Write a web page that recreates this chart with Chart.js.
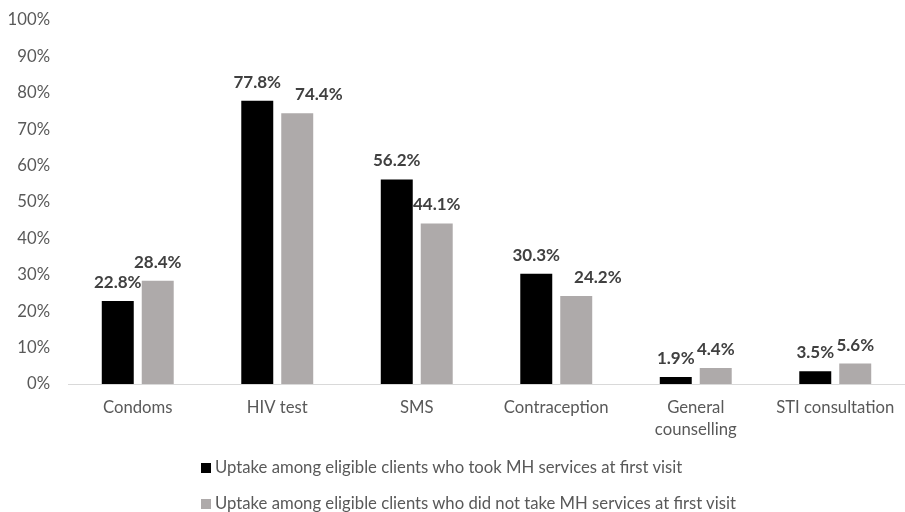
<!DOCTYPE html>
<html>
<head>
<meta charset="utf-8">
<script src="https://cdn.jsdelivr.net/npm/chart.js@4"></script>
<style>
  body { margin: 0; background: #fff; }
  #wrap { position: relative; width: 905px; height: 512px; }
  #legend { position: absolute; left: 201px; top: 456px; font-family: Lato, sans-serif; font-size: 16.7px; color: #595959; }
  #legend div { height: 36px; line-height: 22px; white-space: nowrap; }
  #legend span { display: inline-block; width: 10px; height: 10px; margin-right: 4px; vertical-align: 0px; }
</style>
</head>
<body>
<div id="wrap">
  <canvas id="chart" width="905" height="512"></canvas>
  <div id="legend"></div>
</div>
<script>
// data
const categories = ['Condoms', 'HIV test', 'SMS', 'Contraception', ['General', 'counselling'], 'STI consultation'];
const tookMH = [22.8, 77.8, 56.2, 30.3, 1.9, 3.5];
const noMH = [28.4, 74.4, 44.1, 24.2, 4.4, 5.6];
const seriesNames = [
  'Uptake among eligible clients who took MH services at first visit',
  'Uptake among eligible clients who did not take MH services at first visit'
];
const seriesColors = ['#000000', '#aeaaaa'];
const yTicks = [0, 10, 20, 30, 40, 50, 60, 70, 80, 90, 100];

const font = 'Lato, sans-serif';

// value labels above bars; second label nudged right when it sits too close to the first
const barLabels = {
  id: 'barLabels',
  afterDatasetsDraw(chart) {
    const c = chart.ctx;
    c.save();
    c.font = 'bold 17px ' + font;
    c.fillStyle = '#404040';
    c.textAlign = 'center';
    c.textBaseline = 'alphabetic';
    const m0 = chart.getDatasetMeta(0).data;
    const m1 = chart.getDatasetMeta(1).data;
    categories.forEach((cat, j) => {
      const t0 = tookMH[j].toFixed(1) + '%';
      const t1 = noMH[j].toFixed(1) + '%';
      const w0 = c.measureText(t0).width;
      const w1 = c.measureText(t1).width;
      const x0 = m0[j].x, y0 = m0[j].y - 13;
      let x1 = m1[j].x;
      const y1 = m1[j].y - 13;
      const right0 = x0 + w0 / 2;
      const h = y1 > y0 ? 25 : 13;
      if (Math.abs(y1 - y0) < h && x1 - w1 / 2 < right0) {
        x1 = right0 + 14 + w1 / 2;
      }
      c.fillText(t0, x0, y0);
      c.fillText(t1, x1, y1);
    });
    c.restore();
  }
};

const ctx = document.getElementById('chart');
new Chart(ctx, {
  type: 'bar',
  data: {
    labels: categories,
    datasets: [
      { label: seriesNames[0], data: tookMH, backgroundColor: seriesColors[0] },
      { label: seriesNames[1], data: noMH, backgroundColor: seriesColors[1] }
    ]
  },
  options: {
    responsive: false,
    animation: false,
    categoryPercentage: 0.573,
    barPercentage: 0.8,
    layout: { padding: { top: 20, right: 0, bottom: 0, left: 0 } },
    plugins: { legend: { display: false }, tooltip: { enabled: false } },
    scales: {
      x: {
        grid: { display: false },
        border: { display: true, color: '#d9d9d9', width: 1 },
        ticks: { color: '#595959', font: { family: font, size: 16.7, lineHeight: 1.3 }, padding: 5, maxRotation: 0, autoSkip: false },
        afterFit(s) { s.height = 128; }
      },
      y: {
        min: 0,
        max: 100,
        grid: { display: false },
        border: { display: false },
        afterBuildTicks(s) { s.ticks = yTicks.map(v => ({ value: v })); },
        ticks: { color: '#595959', font: { family: font, size: 16.7 }, padding: 10, callback: v => v + '%' },
        afterFit(s) { s.width = 68; }
      }
    }
  },
  plugins: [barLabels]
});

document.getElementById('legend').innerHTML = seriesNames
  .map((n, i) => '<div><span style="background:' + seriesColors[i] + '"></span>' + n + '</div>')
  .join('');
</script>
</body>
</html>
